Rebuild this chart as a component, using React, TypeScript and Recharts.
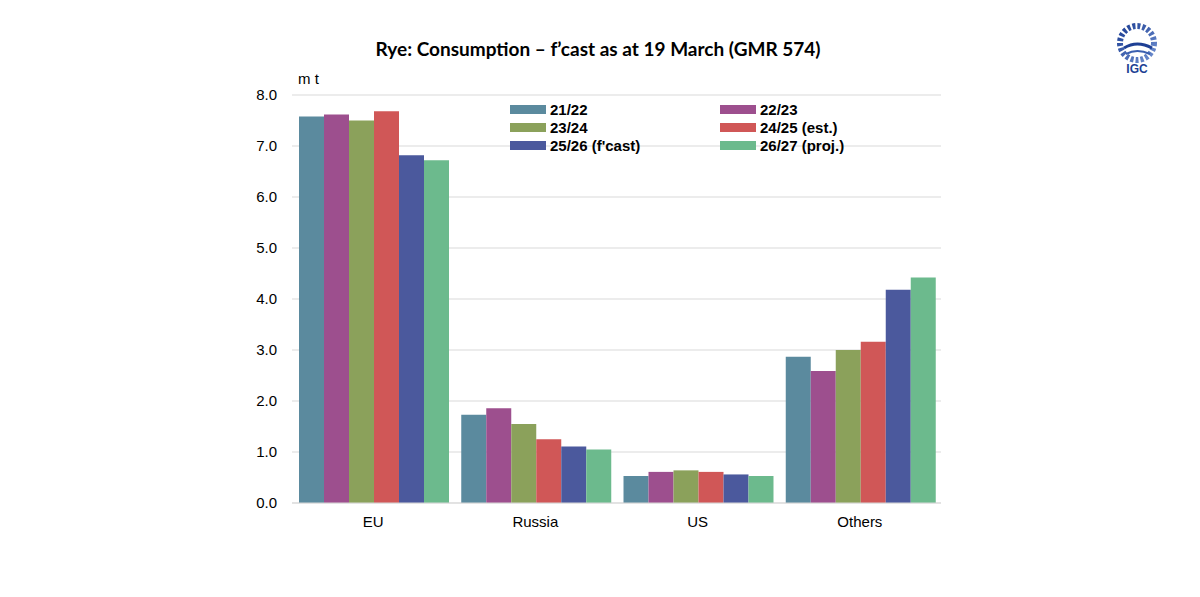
import { BarChart, Bar, XAxis, YAxis, CartesianGrid } from 'recharts';

const regions = ['EU', 'Russia', 'US', 'Others'];

const seasons = ['21/22', '22/23', '23/24', '24/25 (est.)', "25/26 (f'cast)", '26/27 (proj.)'];
const seasonColors = ['#5b8a9e', '#9d4f8e', '#8ba15b', '#d05757', '#4b599d', '#6cba8d'];

const v2122 = [7.58, 1.73, 0.53, 2.87];
const v2223 = [7.62, 1.86, 0.61, 2.59];
const v2324 = [7.5, 1.55, 0.64, 3.0];
const v2425 = [7.68, 1.25, 0.61, 3.16];
const v2526 = [6.82, 1.11, 0.56, 4.18];
const v2627 = [6.72, 1.05, 0.53, 4.42];

const yTicks = [0, 1, 2, 3, 4, 5, 6, 7, 8];

const seriesValues = [v2122, v2223, v2324, v2425, v2526, v2627];

const data = regions.map((name, i) => {
  const row: Record<string, string | number> = { name };
  seasons.forEach((s, j) => {
    row[s] = seriesValues[j][i];
  });
  return row;
});

const font = '"Liberation Sans", Arial, sans-serif';

function LegendGrid() {
  return (
    <div
      style={{
        position: 'absolute',
        left: 510,
        top: 101,
        display: 'grid',
        gridTemplateColumns: '210px 200px',
        rowGap: 2,
        fontFamily: font,
        fontWeight: 'bold',
        fontSize: 15,
        color: '#000',
        zIndex: 2,
      }}
    >
      {seasons.map((s, i) => (
        <div key={s} style={{ display: 'flex', alignItems: 'center', height: 16, whiteSpace: 'nowrap' }}>
          <span
            style={{
              display: 'inline-block',
              width: 36,
              height: 9,
              background: seasonColors[i],
              marginRight: 4,
            }}
          />
          {s}
        </div>
      ))}
    </div>
  );
}

function Logo() {
  return (
    <svg width={50} height={60} style={{ position: 'absolute', left: 1112, top: 18 }}>
      <defs>
        <linearGradient id="globe" x1="0" y1="0" x2="1" y2="1">
          <stop offset="0" stopColor="#1d3f94" />
          <stop offset="1" stopColor="#6f8fd0" />
        </linearGradient>
      </defs>
      <circle cx={25} cy={25} r={17} fill="none" stroke="url(#globe)" strokeWidth={6} strokeDasharray="3 2" />
      <path d="M12 30 Q25 22 40 30" stroke="#1d3f94" strokeWidth={3} fill="none" />
      <path d="M14 36 Q25 30 38 36" stroke="#3a5fb0" strokeWidth={2} fill="none" />
      <text x={25} y={55} textAnchor="middle" fontFamily={font} fontWeight="bold" fontSize={12} fill="#1d3f94">
        IGC
      </text>
    </svg>
  );
}

export default function App() {
  return (
    <div style={{ position: 'absolute', left: 0, top: 0, width: 1200, height: 597, background: '#fff' }}>
      <div
        style={{
          position: 'absolute',
          left: 0,
          width: 1200,
          top: 37,
          textAlign: 'center',
          fontFamily: 'Lato, "Open Sans", sans-serif',
          fontWeight: 'bold',
          fontSize: 19,
          color: '#000',
        }}
      >
        <span style={{ position: 'relative', left: -2 }}>Rye: Consumption – f’cast as at 19 March (GMR 574)</span>
      </div>
      <div
        style={{
          position: 'absolute',
          left: 298,
          top: 70,
          fontFamily: font,
          fontSize: 15,
          color: '#000',
        }}
      >
        m t
      </div>
      <Logo />
      <LegendGrid />
      <BarChart
        width={1200}
        height={597}
        data={data}
        margin={{ top: 95, right: 259, bottom: 64, left: 232 }}
        barCategoryGap={7}
        barGap={0}
      >
        <CartesianGrid vertical={false} stroke="#d9d9d9" />
        <XAxis
          dataKey="name"
          height={30}
          tickLine={false}
          axisLine={{ stroke: '#d9d9d9' }}
          tick={{ fontFamily: font, fontSize: 15, fill: '#000' }}
          tickMargin={7}
        />
        <YAxis
          width={60}
          domain={[0, 8]}
          ticks={yTicks}
          interval={0}
          tickFormatter={(v: number) => v.toFixed(1)}
          tickLine={false}
          axisLine={false}
          tickSize={0}
          tickMargin={15}
          tick={{ fontFamily: font, fontSize: 15, fill: '#000' }}
        />
        {seasons.map((s, i) => (
          <Bar key={s} dataKey={s} fill={seasonColors[i]} isAnimationActive={false} />
        ))}
      </BarChart>
    </div>
  );
}
